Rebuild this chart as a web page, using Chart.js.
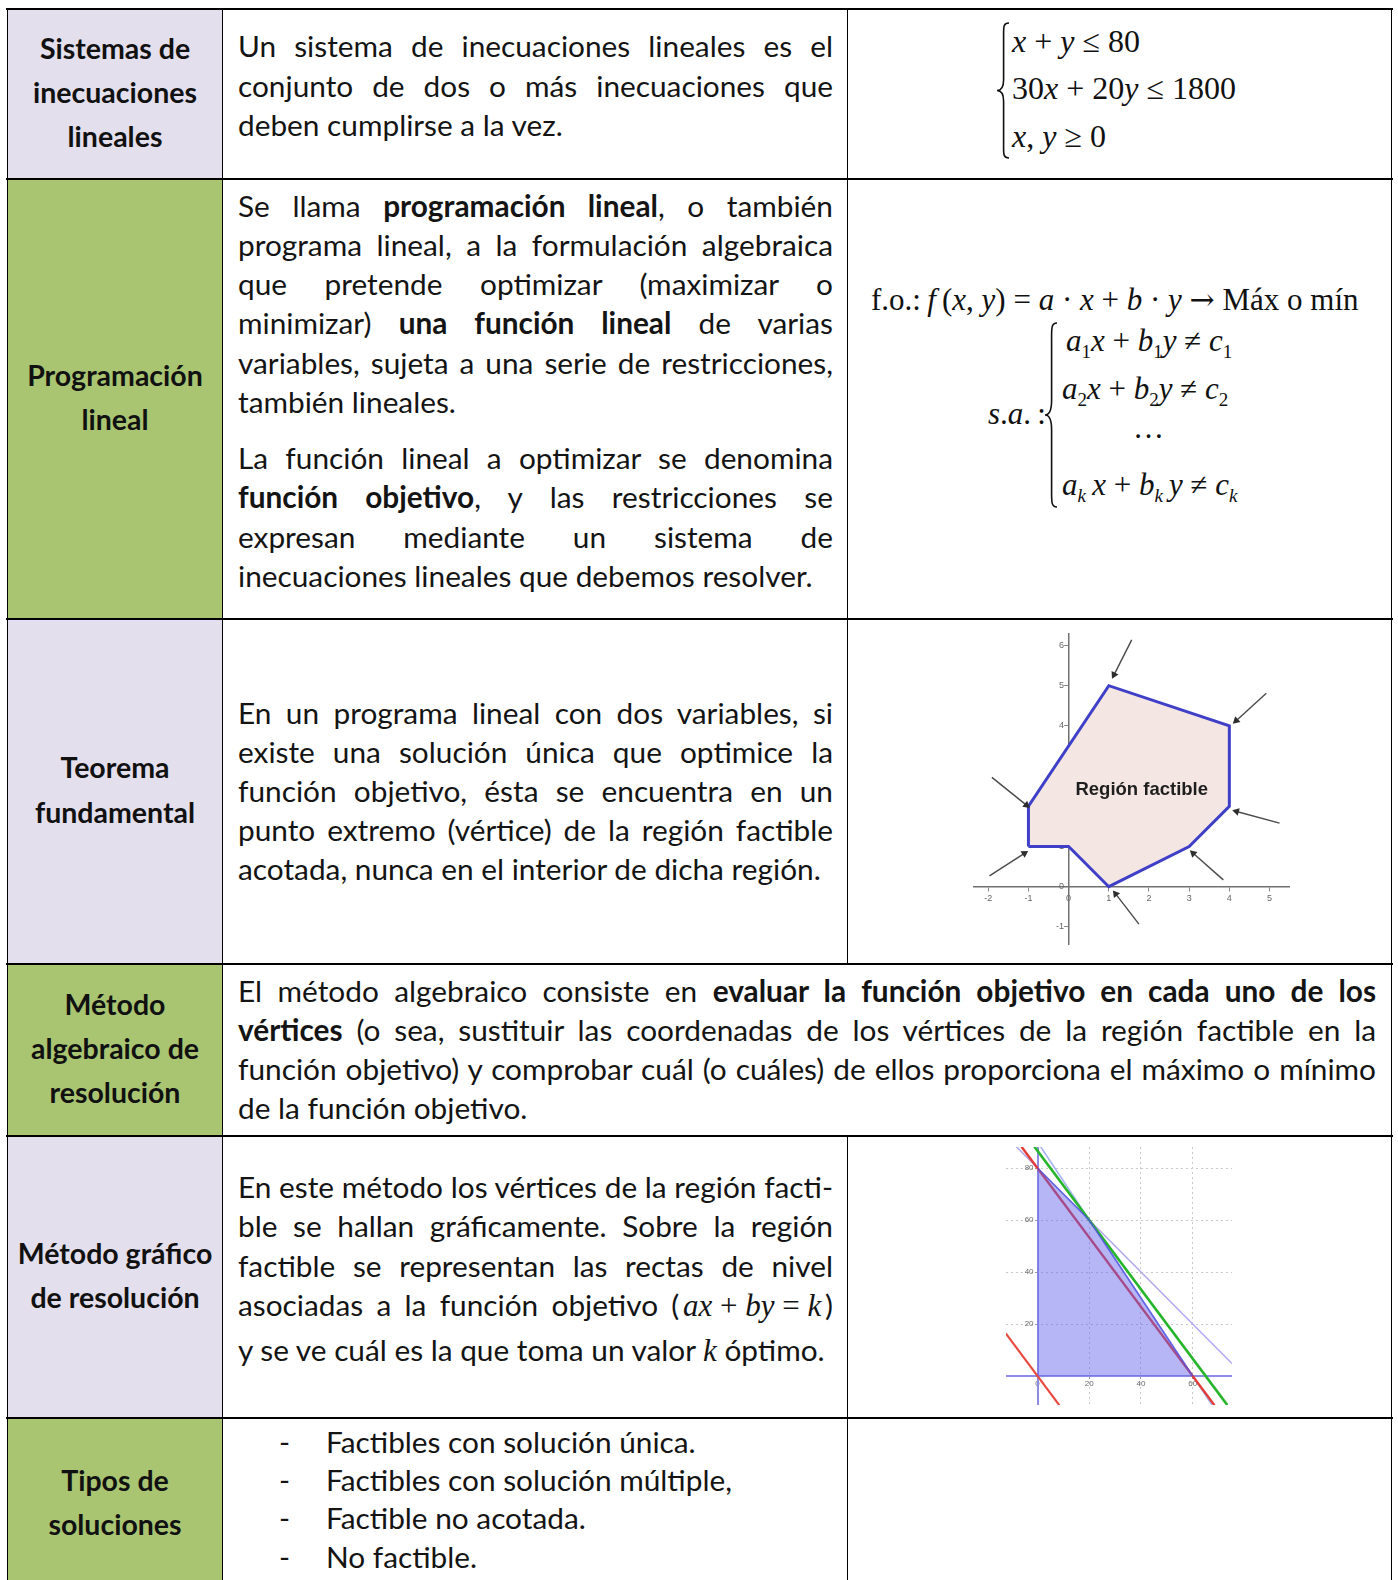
<!DOCTYPE html>
<html lang="es">
<head>
<meta charset="utf-8">
<title>Programación lineal</title>
<script src="https://cdn.jsdelivr.net/npm/chart.js@4.4.1/dist/chart.umd.min.js"></script>
<style>
  html, body { margin: 0; padding: 0; background: #fff; }
  body { width: 1398px; height: 1580px; overflow: hidden; position: relative;
         font-family: Lato, 'Noto Sans', sans-serif; color: #141414; }
  .bg { position: absolute; }
  .lav { background: #e4dfec; }
  .grn { background: #a9c571; }
  .ln { position: absolute; background: #000; }
  .head { position: absolute; left: 8px; width: 214px; display: flex; align-items: center;
          justify-content: center; text-align: center; font-weight: 700; font-size: 28.5px;
          line-height: 44.3px; color: #111; }
  .txt { position: absolute; font-size: 29.8px; line-height: 39.3px; }
  .txt .j { display: block; text-align: justify; text-align-last: justify; }
  .txt .l { display: block; text-align: left; }
  .txt b { font-weight: 700; }
  .m { font-family: 'Liberation Serif', 'Times New Roman', serif; font-size: 31px; }
  .m i { font-style: italic; }
  .nb { display: inline-block; white-space: nowrap; }
  .eq { position: absolute; font-family: 'Liberation Serif', 'Times New Roman', serif;
        font-size: 31px; line-height: 34px; white-space: nowrap; color: #111; }
  .eq i { font-style: italic; }
  .eq sub { font-size: 19px; vertical-align: -7px; line-height: 0; }
  .arr { font-family: 'DejaVu Serif', serif; font-size: 30px; }
  .brace { position: absolute; overflow: visible; }
  canvas { position: absolute; }
</style>
</head>
<body>

<!-- fondos de la primera columna -->
<div class="bg lav" style="left:8px;top:10px;width:214px;height:168px"></div>
<div class="bg grn" style="left:8px;top:180px;width:214px;height:438px"></div>
<div class="bg lav" style="left:8px;top:620px;width:214px;height:343px"></div>
<div class="bg grn" style="left:8px;top:965px;width:214px;height:170px"></div>
<div class="bg lav" style="left:8px;top:1137px;width:214px;height:280px"></div>
<div class="bg grn" style="left:8px;top:1419px;width:214px;height:200px"></div>

<!-- bordes -->
<div class="ln" style="left:6px;top:8px;width:1387px;height:2.2px"></div>
<div class="ln" style="left:6px;top:178px;width:1387px;height:2px"></div>
<div class="ln" style="left:6px;top:618px;width:1387px;height:2px"></div>
<div class="ln" style="left:6px;top:963px;width:1387px;height:2px"></div>
<div class="ln" style="left:6px;top:1135px;width:1387px;height:2px"></div>
<div class="ln" style="left:6px;top:1417px;width:1387px;height:2px"></div>
<div class="ln" style="left:6.5px;top:8px;width:1.6px;height:1580px"></div>
<div class="ln" style="left:222px;top:8px;width:1.2px;height:1580px"></div>
<div class="ln" style="left:847px;top:8px;width:1.2px;height:956px"></div>
<div class="ln" style="left:847px;top:1135px;width:1.2px;height:450px"></div>
<div class="ln" style="left:1391px;top:8px;width:1.3px;height:1580px"></div>

<!-- encabezados -->
<div class="head" style="top:10px;height:164px">Sistemas de<br>inecuaciones<br>lineales</div>
<div class="head" style="top:180px;height:434px">Programación<br>lineal</div>
<div class="head" style="top:620px;height:339px">Teorema<br>fundamental</div>
<div class="head" style="top:965px;height:166px">Método<br>algebraico de<br>resolución</div>
<div class="head" style="top:1137px;height:276px">Método gráfico<br>de resolución</div>
<div class="head" style="top:1419px;height:166px">Tipos de<br>soluciones</div>

<!-- textos -->
<div class="txt" style="left:238px;top:26.3px;width:595px">
  <span class="j">Un sistema de inecuaciones lineales es el</span>
  <span class="j">conjunto de dos o más inecuaciones que</span>
  <span class="l">deben cumplirse a la vez.</span>
</div>

<div class="txt" style="left:238px;top:185.5px;width:595px">
  <span class="j">Se llama <b>programación lineal</b>, o también</span>
  <span class="j">programa lineal, a la formulación algebraica</span>
  <span class="j">que pretende optimizar (maximizar o</span>
  <span class="j">minimizar) <b>una función lineal</b> de varias</span>
  <span class="j">variables, sujeta a una serie de restricciones,</span>
  <span class="l">también lineales.</span>
</div>
<div class="txt" style="left:238px;top:438px;width:595px">
  <span class="j">La función lineal a optimizar se denomina</span>
  <span class="j"><b>función objetivo</b>, y las restricciones se</span>
  <span class="j">expresan mediante un sistema de</span>
  <span class="l">inecuaciones lineales que debemos resolver.</span>
</div>

<div class="txt" style="left:238px;top:692.8px;width:595px;line-height:39px">
  <span class="j">En un programa lineal con dos variables, si</span>
  <span class="j">existe una solución única que optimice la</span>
  <span class="j">función objetivo, ésta se encuentra en un</span>
  <span class="j">punto extremo (vértice) de la región factible</span>
  <span class="l">acotada, nunca en el interior de dicha región.</span>
</div>

<div class="txt" style="left:238px;top:971px;width:1138px;line-height:39px">
  <span class="j">El método algebraico consiste en <b>evaluar la función objetivo en cada uno de los</b></span>
  <span class="j"><b>vértices</b> (o sea, sustituir las coordenadas de los vértices de la región factible en la</span>
  <span class="j">función objetivo) y comprobar cuál (o cuáles) de ellos proporciona el máximo o mínimo</span>
  <span class="l">de la función objetivo.</span>
</div>

<div class="txt" style="left:238px;top:1167px;width:595px">
  <span class="j">En este método los vértices de la región facti-</span>
  <span class="j">ble se hallan gráficamente. Sobre la región</span>
  <span class="j">factible se representan las rectas de nivel</span>
  <span class="j">asociadas a la función objetivo <span class="nb">(&thinsp;<span class="m"><i>ax</i> + <i>by</i> = <i>k</i></span>&thinsp;)</span></span>
  <span class="l" style="margin-top:4.4px">y se ve cuál es la que toma un valor <span class="m"><i>k</i></span> óptimo.</span>
</div>

<div class="txt" style="left:279px;top:1422.5px;width:560px;line-height:38.35px">
  <span class="l">-<span style="position:absolute;left:47px">Factibles con solución única.</span></span>
  <span class="l">-<span style="position:absolute;left:47px">Factibles con solución múltiple,</span></span>
  <span class="l">-<span style="position:absolute;left:47px">Factible no acotada.</span></span>
  <span class="l">-<span style="position:absolute;left:47px">No factible.</span></span>
</div>

<!-- expresiones matemáticas -->
<svg class="brace" style="left:997px;top:23px" width="12" height="135" id="brace1"></svg>
<div class="eq" style="left:1012px;top:17.5px;font-size:32px;line-height:47.5px">
  <div><i>x</i> + <i>y</i> ≤ 80</div>
  <div>30<i>x</i> + 20<i>y</i> ≤ 1800</div>
  <div><i>x</i>, <i>y</i> ≥ 0</div>
</div>

<div class="eq" style="left:871px;top:283px">f.o.:&thinsp;<i>f</i>&thinsp;(<i>x</i>, <i>y</i>) = <i>a</i> · <i>x</i> + <i>b</i> · <i>y</i> <span class="arr">→</span> Máx o mín</div>
<div class="eq" style="left:988px;top:397px"><i>s</i>.<i>a</i>.&thinsp;:</div>
<svg class="brace" style="left:1045px;top:323px" width="12" height="184" id="brace2"></svg>
<div class="eq" style="left:1066px;top:324px"><i>a</i><sub>1</sub><i>x</i> + <i>b</i><sub>1</sub><i>y</i> ≠ <i>c</i><sub>1</sub></div>
<div class="eq" style="left:1062px;top:372px"><i>a</i><sub>2</sub><i>x</i> + <i>b</i><sub>2</sub><i>y</i> ≠ <i>c</i><sub>2</sub></div>
<div class="eq" style="left:1133px;top:411px">…</div>
<div class="eq" style="left:1062px;top:468px"><i>a<sub>k</sub></i>&thinsp;<i>x</i> + <i>b<sub>k</sub></i>&thinsp;<i>y</i> ≠ <i>c<sub>k</sub></i></div>

<!-- gráficos -->
<canvas id="chartA" width="317" height="312" style="left:973px;top:633px;width:317px;height:312px"></canvas>
<canvas id="chartB" width="226" height="258" style="left:1006px;top:1147px;width:226px;height:258px"></canvas>

<script>
// ---- datos: región factible (teorema fundamental) ----
const xTicksA = [-2, -1, 0, 1, 2, 3, 4, 5];
const yTicksA = [-1, 0, 1, 2, 3, 4, 5, 6];
const xRangeA = [-2.38, 5.51];
const yRangeA = [-1.45, 6.31];
const regionUpper = [[-1, 2], [1, 5], [4, 4]];
const regionLower = [[-1, 1], [0, 1], [1, 0], [3, 1], [4, 2]];
const regionEdge = [[-1, 1], [-1, 2], [1, 5], [4, 4], [4, 2], [3, 1], [1, 0], [0, 1], [-1, 1]];
const arrowFrom = [[1.57, 6.14], [4.92, 4.81], [-1.91, 2.72], [5.25, 1.58], [-1.97, 0.27], [3.85, 0.17], [1.75, -0.93]];
const arrowTo = [[1.13, 5.27], [4.17, 4.13], [-1.05, 2.03], [4.18, 1.87], [-1.10, 0.83], [3.10, 0.83], [1.17, -0.18]];
const regionName = 'Región factible';

// ---- datos: método gráfico ----
const xTicksB = [0, 20, 40, 60];
const yTicksB = [20, 40, 60, 80];
const xRangeB = [-12.2, 75.2];
const yRangeB = [-11.15, 88.1];
const feasibleTop = [[0, 80], [20, 60], [60, 0]];
const lineSum80 = [[-8.2, 88.2], [75.2, 4.8]];        // x + y = 80
const line1800 = [[1.2, 88.2], [67.5, -11.2]];        // 30x + 20y = 1800
const levelK0 = [[-12.3, 16.4], [8.4, -11.2]];        // recta de nivel por el origen
const levelK240 = [[-6.2, 88.2], [68.4, -11.2]];
const levelK260 = [[-1.2, 88.2], [73.4, -11.2]];

Chart.defaults.font.family = "'Liberation Sans', Arial, sans-serif";
Chart.defaults.animation = false;

const pts = (arr) => arr.map(([x, y]) => ({x, y}));
const noPad = (s) => { s.paddingTop = s.paddingBottom = s.paddingLeft = s.paddingRight = 0; };

function centredAxis(ticksArr, range, pos, opts) {
  return {
    type: 'linear', min: range[0], max: range[1], position: pos,
    afterBuildTicks: (s) => { s.ticks = ticksArr.map((v) => ({value: v})); },
    afterFit: noPad,
    grid: opts.grid,
    border: opts.border,
    ticks: opts.ticks,
  };
}

// arrowhead rotation (same scale on both axes)
const arrowAngle = (a, b) => Math.atan2(b[0] - a[0], b[1] - a[1]) * 180 / Math.PI;

const labelPlugin = {
  id: 'regionLabel',
  afterDatasetsDraw(chart, args, opts) {
    if (!opts.text) return;
    const {ctx, scales: {x, y}} = chart;
    ctx.save();
    ctx.font = opts.font;
    ctx.fillStyle = opts.color;
    ctx.textAlign = 'center';
    ctx.textBaseline = 'middle';
    ctx.fillText(opts.text, x.getPixelForValue(opts.at[0]), y.getPixelForValue(opts.at[1]));
    ctx.restore();
  },
};

// Región factible
const arrowSets = arrowFrom.map((a, i) => ({
  data: pts([a, arrowTo[i]]),
  showLine: true,
  borderColor: '#4a4a4a',
  borderWidth: 1.4,
  pointRadius: [0, 4.5],
  pointStyle: 'triangle',
  pointRotation: [0, arrowAngle(a, arrowTo[i])],
  pointBackgroundColor: '#2e2e2e',
  pointBorderWidth: 0,
}));

const gridA = { drawOnChartArea: false, tickLength: 4, color: '#8a8a8a', lineWidth: 1 };
const borderA = { color: '#707070', width: 1.5 };

new Chart(document.getElementById('chartA'), {
  type: 'scatter',
  data: {
    datasets: [
      ...arrowSets,
      { data: pts(regionEdge), showLine: true, borderColor: '#3f3fc8', borderWidth: 3,
        pointRadius: 0, fill: false, borderJoinStyle: 'miter' },
      { data: pts(regionUpper), showLine: true, borderWidth: 0, pointRadius: 0,
        fill: '+1', backgroundColor: '#f4e7e3' },
      { data: pts(regionLower), showLine: true, borderWidth: 0, pointRadius: 0, fill: false },
    ],
  },
  plugins: [labelPlugin],
  options: {
    responsive: false,
    events: [],
    layout: { padding: 0, autoPadding: false },
    plugins: {
      legend: { display: false },
      tooltip: { enabled: false },
      regionLabel: { text: regionName, at: [1.82, 2.4], font: "bold 18.5px 'Liberation Sans', Arial", color: '#1e1e1e' },
    },
    scales: {
      x: centredAxis(xTicksA, xRangeA, {y: 0}, {
        grid: gridA, border: borderA,
        ticks: { color: '#666', font: {size: 9}, padding: 2 },
      }),
      y: centredAxis(yTicksA, yRangeA, {x: 0}, {
        grid: gridA, border: borderA,
        ticks: { color: '#666', font: {size: 9}, callback: (v) => v + '\u2002' },
      }),
    },
  },
});

// Método gráfico
const gridB = { color: '#c9c9c9', lineWidth: 1, tickLength: 2, tickColor: '#999' };
const borderB = { color: '#8c8ce6', width: 2, dash: [2, 3] };
const straight = (arr, color, width) => ({
  data: pts(arr), showLine: true, borderColor: color, borderWidth: width, pointRadius: 0, fill: false,
});

new Chart(document.getElementById('chartB'), {
  type: 'scatter',
  data: {
    datasets: [
      { data: pts(feasibleTop), showLine: true, borderColor: 'rgba(80,80,225,0.75)', borderWidth: 1.5,
        pointRadius: 0, fill: 'origin', backgroundColor: 'rgba(96,96,238,0.46)' },
      straight(levelK240, '#e23a36', 2.4),
      straight(levelK260, '#27b52b', 2.6),
      straight(line1800, '#a6b3f2', 1.6),
      straight(lineSum80, '#b1a9ee', 1.6),
      straight(levelK0, '#e84a40', 2.2),
    ],
  },
  options: {
    responsive: false,
    events: [],
    layout: { padding: 0, autoPadding: false },
    plugins: { legend: { display: false }, tooltip: { enabled: false } },
    scales: {
      x: centredAxis(xTicksB, xRangeB, {y: 0}, {
        grid: gridB, border: borderB,
        ticks: { color: '#6a6a6a', font: {size: 8}, padding: 1 },
      }),
      y: centredAxis(yTicksB, yRangeB, {x: 0}, {
        grid: gridB, border: borderB,
        ticks: { color: '#6a6a6a', font: {size: 8}, callback: (v) => v + '\u2002' },
      }),
    },
  },
});

// llaves de los sistemas
function drawBrace(id) {
  const svg = document.getElementById(id);
  const w = +svg.getAttribute('width'), h = +svg.getAttribute('height');
  const p = `M ${w} 0 C ${w * 0.5} 0, ${w * 0.55} ${h * 0.03}, ${w * 0.55} ${h * 0.1}
    L ${w * 0.55} ${h * 0.42} C ${w * 0.55} ${h * 0.48}, ${w * 0.3} ${h * 0.5}, 0 ${h * 0.5}
    C ${w * 0.3} ${h * 0.5}, ${w * 0.55} ${h * 0.52}, ${w * 0.55} ${h * 0.58}
    L ${w * 0.55} ${h * 0.9} C ${w * 0.55} ${h * 0.97}, ${w * 0.5} ${h}, ${w} ${h}`;
  svg.innerHTML = `<path d="${p}" fill="none" stroke="#111" stroke-width="1.6"/>`;
}
drawBrace('brace1');
drawBrace('brace2');
</script>
</body>
</html>
